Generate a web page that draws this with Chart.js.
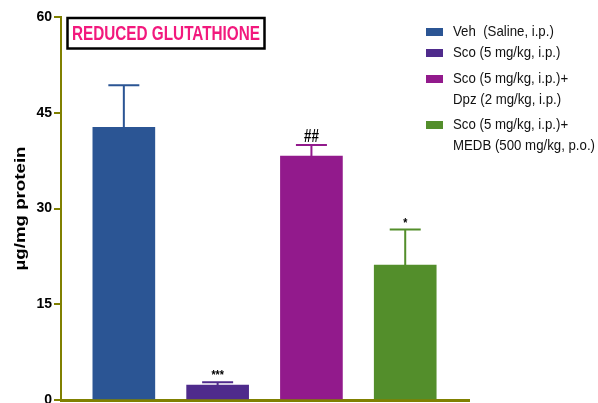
<!DOCTYPE html>
<html>
<head>
<meta charset="utf-8">
<script src="https://cdn.jsdelivr.net/npm/chart.js@4/dist/chart.umd.min.js"></script>
<style>
  html, body { margin: 0; padding: 0; background: #ffffff; }
  #wrap { width: 598px; height: 403px; position: relative; }
</style>
</head>
<body>
<div id="wrap"><canvas id="c" width="598" height="403"></canvas></div>
<script>
// Treatment groups (legend text, one entry per line)
const groups = [
  ['Veh  (Saline, i.p.)'],
  ['Sco (5 mg/kg, i.p.)'],
  ['Sco (5 mg/kg, i.p.)+', 'Dpz (2 mg/kg, i.p.)'],
  ['Sco (5 mg/kg, i.p.)+', 'MEDB (500 mg/kg, p.o.)']
];
// Reduced glutathione, µg/mg protein (mean and upper SEM)
const means = [42.7, 2.35, 38.2, 21.15];
const errors = [6.6, 0.45, 1.75, 5.55];
// Significance marks above each bar
const marks = ['', '***', '##', '*'];
const colors = ['#2b5594', '#4f2b8c', '#921a8c', '#538e2b'];
const yTicks = [0, 15, 30, 45, 60];
const chartTitle = 'REDUCED GLUTATHIONE';
const yTitle = 'µg/mg protein';

const OLIVE = '#808000';
const SANS = 'Arial, "Liberation Sans", sans-serif';

// Draw text squeezed/stretched horizontally to a given width
function fitText(ctx, text, x, y, width, align) {
  const w = ctx.measureText(text).width;
  const f = width / w;
  ctx.save();
  ctx.translate(x, y);
  ctx.scale(f, 1);
  ctx.textAlign = align;
  ctx.fillText(text, 0, 0);
  ctx.restore();
}

const errorBars = {
  id: 'errorBars',
  afterDatasetsDraw(chart) {
    const ctx = chart.ctx;
    const y = chart.scales.y;
    const meta = chart.getDatasetMeta(0);
    meta.data.forEach((bar, i) => {
      const top = y.getPixelForValue(means[i]);
      const capY = y.getPixelForValue(means[i] + errors[i]);
      ctx.save();
      ctx.strokeStyle = colors[i];
      ctx.lineWidth = 2;
      ctx.beginPath();
      ctx.moveTo(bar.x, top);
      ctx.lineTo(bar.x, capY);
      ctx.moveTo(bar.x - 15.5, capY);
      ctx.lineTo(bar.x + 15.5, capY);
      ctx.stroke();
      if (marks[i]) {
        ctx.fillStyle = '#000';
        ctx.textBaseline = 'alphabetic';
        const hash = marks[i].includes('#');
        ctx.font = 'bold ' + (hash ? 18 : 13) + 'px ' + SANS;
        const w = hash ? 15 : ctx.measureText(marks[i]).width * 0.82;
        fitText(ctx, marks[i], bar.x, capY - 3, w, 'center');
      }
      ctx.restore();
    });
  }
};

const annotations = {
  id: 'annotations',
  afterDraw(chart) {
    const ctx = chart.ctx;
    const area = chart.chartArea;
    ctx.save();
    // Title box
    ctx.strokeStyle = '#000';
    ctx.lineWidth = 2.5;
    ctx.strokeRect(67.5, 18, 197, 30.5);
    ctx.fillStyle = '#f2197d';
    ctx.font = 'bold 20px ' + SANS;
    ctx.textBaseline = 'middle';
    fitText(ctx, chartTitle, 166, 34, 188, 'center');

    // Y axis title, rotated
    ctx.fillStyle = '#000';
    ctx.font = 'bold 14px ' + SANS;
    ctx.translate(21, (area.top + area.bottom) / 2);
    ctx.rotate(-Math.PI / 2);
    ctx.textBaseline = 'middle';
    fitText(ctx, yTitle, 0, 0, 124, 'center');
    ctx.restore();

    // Legend
    const starts = [32, 53, 79, 125];
    ctx.save();
    ctx.font = '15px ' + SANS;
    ctx.textBaseline = 'middle';
    const f = 142 / ctx.measureText(groups[3][1]).width;
    groups.forEach((lines, i) => {
      ctx.fillStyle = colors[i];
      ctx.fillRect(426, starts[i] - 4, 17, 8);
      ctx.fillStyle = '#111';
      lines.forEach((t, k) => {
        fitText(ctx, t, 453, starts[i] + k * 21, ctx.measureText(t).width * f, 'left');
      });
    });
    ctx.restore();
  }
};

new Chart(document.getElementById('c'), {
  type: 'bar',
  data: {
    datasets: [{
      data: means.map((v, i) => ({ x: i + 1, y: v })),
      backgroundColor: colors,
      borderWidth: 0,
      barThickness: 62
    }]
  },
  options: {
    responsive: false,
    animation: false,
    layout: { padding: { top: 17, right: 129, left: 0, bottom: 0 } },
    plugins: { legend: { display: false }, tooltip: { enabled: false } },
    scales: {
      x: {
        type: 'linear',
        offset: false,
        min: 0.33,
        max: 4.68,
        ticks: { display: false },
        grid: { display: false },
        border: { color: OLIVE, width: 3 },
        afterFit(s) { s.height = 3; }
      },
      y: {
        min: 0,
        max: 60,
        afterBuildTicks(s) { s.ticks = yTicks.map(v => ({ value: v })); },
        ticks: { color: '#000', padding: 2, font: { family: SANS, size: 14, weight: 'bold' } },
        grid: { drawOnChartArea: false, tickLength: 7, color: OLIVE, lineWidth: 2 },
        border: { color: OLIVE, width: 2 },
        afterFit(s) { s.width = 61; s.paddingTop = 0; s.paddingBottom = 0; }
      }
    }
  },
  plugins: [errorBars, annotations]
});
</script>
</body>
</html>
